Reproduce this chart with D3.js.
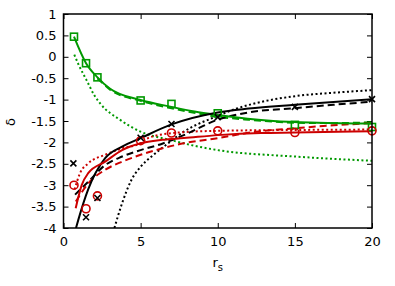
<!DOCTYPE html>
<html>
<head>
<meta charset="utf-8">
<script src="https://cdn.jsdelivr.net/npm/d3@7"></script>
<style>
body{margin:0;background:#fff;}
text{font-family:"DejaVu Sans",sans-serif;}
</style>
</head>
<body>
<script>
// x positions of the measured points
var rsPts = [0.68, 1.46, 2.2, 5, 7, 10, 15, 20];
var squares = [0.47, -0.15, -0.48, -1.02, -1.1, -1.32, -1.59, -1.64];
var circles = [-3.0, -3.55, -3.25, -1.96, -1.78, -1.73, -1.77, -1.73];
var crosses = [-2.49, -3.75, -3.3, -1.89, -1.57, -1.41, -1.17, -0.99];
var crossX = [0.64, 1.46, 2.2, 5, 7, 10, 15, 20];

// curves: [x, y]
var blackSolid = [[0.81,-4],[0.96,-3.81],[1.6,-3.1],[2.7,-2.37],[3.8,-2.1],[5,-1.9],[7,-1.58],[10,-1.3],[12,-1.21],[15,-1.12],[20,-0.99]];
var blackDash = [[0.75,-3.22],[1.6,-2.92],[2.7,-2.53],[3.8,-2.33],[5,-2.18],[6.4,-2.03],[7.8,-1.83],[10,-1.47],[12,-1.3],[15,-1.2],[17.5,-1.12],[20,-1.05]];
var blackDot = [[3.3,-4],[3.8,-3.42],[4.4,-2.88],[5,-2.57],[5.8,-2.3],[6.5,-2.1],[7.8,-1.75],[10,-1.38],[11.3,-1.2],[12.5,-1.08],[15,-0.92],[17.5,-0.84],[20,-0.78]];
var redSolid = [[0.79,-3.54],[1.18,-3.0],[1.6,-2.72],[2.7,-2.45],[3.8,-2.18],[5,-2.02],[6.4,-1.94],[7.8,-1.9],[10,-1.83],[12.8,-1.78],[15,-1.77],[20,-1.74]];
var redDash = [[0.8,-3.38],[1.6,-2.96],[2.7,-2.64],[3.8,-2.45],[5,-2.29],[6,-2.18],[7.8,-2.02],[10,-1.9],[12.5,-1.75],[15,-1.67],[17.5,-1.6],[20,-1.55]];
var redDot = [[0.72,-3.1],[1.07,-2.72],[1.6,-2.49],[2.7,-2.29],[3.8,-2.14],[5,-2.02],[5.6,-1.88],[7.8,-1.76],[10,-1.73],[15,-1.71],[20,-1.7]];
var greenSolid = [[0.68,0.47],[1.46,-0.15],[2.2,-0.48],[3,-0.74],[5,-1.01],[7,-1.17],[8.5,-1.28],[10,-1.36],[13.6,-1.5],[16.5,-1.54],[20,-1.56]];
var greenDash = [[2.2,-0.5],[3,-0.76],[5,-1.03],[7,-1.2],[10,-1.4],[12,-1.47],[15,-1.54],[17.5,-1.55],[20,-1.53]];
var greenDot = [[0.7,0.05],[1.0,-0.2],[1.5,-0.55],[2.0,-0.9],[2.4,-1.1],[3.7,-1.48],[5,-1.75],[7,-1.95],[8.5,-2.08],[10,-2.18],[15,-2.33],[20,-2.43]];

var xTicks = [0, 5, 10, 15, 20];
var yTicks = [1, 0.5, 0, -0.5, -1, -1.5, -2, -2.5, -3, -3.5, -4];

var width = 395, height = 286;
var pLeft = 63.5, pRight = 372, pTop = 14, pBottom = 228;
var green = "#009900", red = "#cc0000";

var svg = d3.select("body").append("svg")
	.attr("width", width).attr("height", height);

var x = d3.scaleLinear().domain([0, 20]).range([pLeft, pRight]);
var y = d3.scaleLinear().domain([-4, 1]).range([pBottom, pTop]);

svg.append("defs").append("clipPath").attr("id", "clip")
	.append("rect").attr("x", pLeft).attr("y", pTop)
	.attr("width", pRight - pLeft).attr("height", pBottom - pTop);

// axes with inward ticks, mirrored
var fmt = function(d){ return "" + d; };
svg.append("g").attr("transform", "translate(0," + pBottom + ")")
	.call(d3.axisBottom(x).tickValues(xTicks).tickSize(-5).tickPadding(9).tickFormat(fmt));
svg.append("g").attr("transform", "translate(0," + pTop + ")")
	.call(d3.axisTop(x).tickValues(xTicks).tickSize(-5).tickFormat(""));
svg.append("g").attr("transform", "translate(" + pLeft + ",0)")
	.call(d3.axisLeft(y).tickValues(yTicks).tickSize(-5).tickPadding(7).tickFormat(fmt));
svg.append("g").attr("transform", "translate(" + pRight + ",0)")
	.call(d3.axisRight(y).tickValues(yTicks).tickSize(-5).tickFormat(""));
svg.selectAll(".domain").remove();
svg.selectAll(".tick line").attr("stroke", "#000").attr("stroke-width", 1);
svg.selectAll(".tick text").attr("font-size", 13).attr("fill", "#000")
	.attr("font-family", "DejaVu Sans, sans-serif");

var line = d3.line().x(function(d){ return x(d[0]); }).y(function(d){ return y(d[1]); })
	.curve(d3.curveMonotoneX);

var plot = svg.append("g").attr("clip-path", "url(#clip)");
var curves = [
	[greenDot, green, "2,2.5"],
	[blackDot, "#000", "2,2.5"],
	[redDot, red, "2,2.5"],
	[greenDash, green, "7,4"],
	[blackDash, "#000", "7,4"],
	[redDash, red, "7,4"],
	[greenSolid, green, null],
	[blackSolid, "#000", null],
	[redSolid, red, null]
];
curves.forEach(function(c){
	plot.append("path").attr("d", line(c[0]))
		.attr("fill", "none").attr("stroke", c[1]).attr("stroke-width", 2)
		.attr("stroke-dasharray", c[2]);
});

// markers
svg.selectAll(".sq").data(squares).enter().append("rect")
	.attr("x", function(d,i){ return x(rsPts[i]) - 3.5; })
	.attr("y", function(d){ return y(d) - 3.5; })
	.attr("width", 7).attr("height", 7)
	.attr("fill", "none").attr("stroke", green).attr("stroke-width", 1.6);

svg.selectAll(".ci").data(circles).enter().append("circle")
	.attr("cx", function(d,i){ return x(rsPts[i]); })
	.attr("cy", function(d){ return y(d); })
	.attr("r", 4)
	.attr("fill", "none").attr("stroke", red).attr("stroke-width", 1.6);

svg.selectAll(".cr").data(crosses).enter().append("path")
	.attr("transform", function(d,i){ return "translate(" + x(crossX[i]) + "," + y(d) + ")"; })
	.attr("d", "M-3,-3L3,3M-3,3L3,-3")
	.attr("stroke", "#000").attr("stroke-width", 1.6);

// frame
svg.append("rect").attr("x", pLeft).attr("y", pTop)
	.attr("width", pRight - pLeft).attr("height", pBottom - pTop)
	.attr("fill", "none").attr("stroke", "#000").attr("stroke-width", 1.5);

// labels
var xl = svg.append("text").attr("x", x(10)).attr("y", 267)
	.attr("text-anchor", "middle").attr("font-size", 13);
xl.append("tspan").text("r");
xl.append("tspan").attr("font-size", 10).attr("dy", 4).text("s");

svg.append("text").attr("transform", "translate(15,122) rotate(-90)")
	.attr("text-anchor", "middle").attr("font-size", 13).text("δ");
</script>
</body>
</html>
